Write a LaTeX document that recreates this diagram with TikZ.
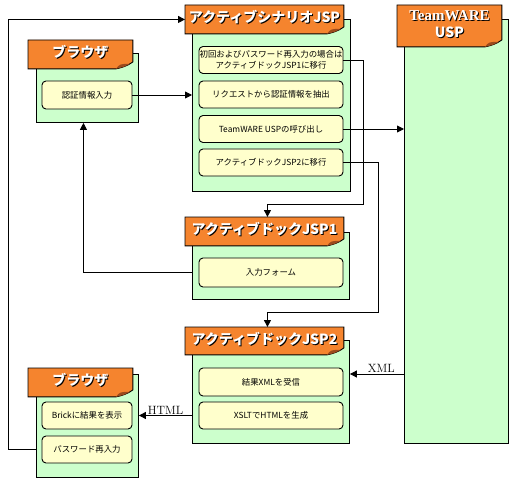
\documentclass[tikz,border=0pt]{standalone}
\usepackage{fontspec}
\usetikzlibrary{arrows.meta}
\newfontfamily\jpfont{Noto Sans CJK JP}
\newfontfamily\tagfont{Liberation Serif}
\definecolor{bodygreen}{HTML}{CCFFCC}
\definecolor{itemyellow}{HTML}{FFFFCC}
\definecolor{headorange}{HTML}{F5842E}
\definecolor{folddark}{HTML}{9C4A1C}
\tikzset{>={Triangle[length=7pt,width=7pt]}}
\tikzset{
  body/.style={draw, fill=bodygreen, anchor=north west, inner sep=0pt},
  item/.style={draw, fill=itemyellow, rounded corners=4pt, minimum width=144, minimum height=27,
    inner sep=0pt, align=center, font=\jpfont\fontsize{8.4}{11}\selectfont},
  headbox/.style={inner sep=0pt, anchor=north west},
  headtext/.style={text=white, align=center, font=\jpfont\bfseries\fontsize{14}{17}\selectfont},
  headshadow/.style={headtext, text=black},
  tag/.style={font=\fontsize{12}{14}\selectfont, inner sep=1pt, above}
}
% orange tab with a curled corner
\newcommand{\tabhead}[6]{%
  \node[headbox, minimum width=#4, minimum height=#5] (#1) at (#2,#3) {};
  \draw[fill=headorange] (#1.north west) -- (#1.north east) -- ([yshift=7pt]#1.south east)
    .. controls ([xshift=-5pt,yshift=3pt]#1.south east) and ([xshift=-12pt,yshift=1pt]#1.south east) .. ([xshift=-17pt]#1.south east)
    -- (#1.south west) -- cycle;
  \fill[folddark] ([xshift=-17pt]#1.south east) .. controls ([xshift=-13pt,yshift=5pt]#1.south east) .. ([xshift=-3pt,yshift=5pt]#1.south east)
    -- ([xshift=-9pt,yshift=2pt]#1.south east) -- cycle;
  \node[headshadow] at ([shift={(1pt,1pt)}]#1.center) {#6};
  \node[headtext] at ([yshift=2pt]#1.center) {#6};
}

\begin{document}
\begin{tikzpicture}[x=1pt, y=-1pt, line width=0.9pt]
  \useasboundingbox (0,0) rectangle (514,484);
  % green bodies
  \node[body, minimum width=102, minimum height=69] (b1body) at (36,53) {};
  \node[body, minimum width=158, minimum height=172] (sbody) at (192,19) {};
  \node[body, minimum width=104, minimum height=424] (tbody) at (404,19) {};
  \node[body, minimum width=157, minimum height=67] (d1body) at (192,232) {};
  \node[body, minimum width=157, minimum height=103] (d2body) at (192,340) {};
  \node[body, minimum width=102, minimum height=103] (b2body) at (36,374) {};
  % tabs
  \tabhead{b1head}{28}{40}{104}{28}{ブラウザ}
  \tabhead{shead}{185}{5}{158}{28}{アクティブシナリオJSP}
  \tabhead{thead}{397}{5}{104}{41}{\tagfont\bfseries\fontsize{15}{18}\selectfont TeamWARE\\USP}
  \tabhead{d1head}{185}{217}{158}{28}{アクティブドックJSP1}
  \tabhead{d2head}{185}{327}{158}{27}{アクティブドックJSP2}
  \tabhead{b2head}{28}{368}{104}{28}{ブラウザ}
  % boxes
  \node[item, minimum width=90, minimum height=28] (auth) at (87,95) {認証情報入力};
  \node[item] (init) at (271,60) {初回およびパスワード再入力の場合は\\アクティブドックJSP1に移行};
  \node[item] (extract) at (271,94.5) {リクエストから認証情報を抽出};
  \node[item] (call) at (271,129) {TeamWARE USPの呼び出し};
  \node[item] (move) at (271,162.5) {アクティブドックJSP2に移行};
  \node[item, minimum height=29] (form) at (271,272.5) {入力フォーム};
  \node[item, minimum height=28] (recv) at (271,382) {結果XMLを受信};
  \node[item] (xslt) at (271,415.5) {XSLTでHTMLを生成};
  \node[item, minimum width=90] (show) at (87,415.5) {Brickに結果を表示};
  \node[item, minimum width=90] (pwd) at (87,449.5) {パスワード再入力};
  \coordinate (j1) at ([xshift=3pt]d1head.north);
  \coordinate (j2) at ([xshift=3pt]d2head.north);
  \coordinate (xmly) at ([yshift=8pt]recv.east);
  % connectors
  \draw[->] (auth.east) -- (auth -| sbody.west);
  \draw[->] (call.east) -- (call -| tbody.west);
  \draw[->] (init.east) -- ++(20,0) |- ([yshift=13pt]j1) -- (j1);
  \draw[->] (move.east) -- ++(35,0) |- ([yshift=15pt]j2) -- (j2);
  \draw[->] (form -| d1body.west) -| ([xshift=-4pt]b1body.south);
  \draw[->] (pwd -| b2body.west) -- ++(-28,0) |- (shead.west);
  \draw[->] (xmly -| tbody.west) -- node[tag, pos=0.42] {XML} (xmly -| d2body.east);
  \draw[->] (xslt -| d2body.west) -- node[tag] {HTML} (xslt -| b2body.east);
\end{tikzpicture}
\end{document}
